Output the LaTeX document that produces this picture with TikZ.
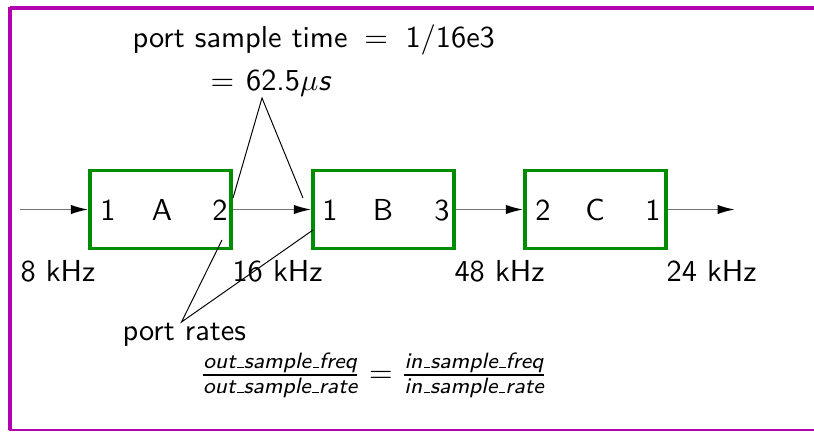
\documentclass[tikz,border=0pt]{standalone}
\usepackage{amsmath}
\usetikzlibrary{arrows.meta}
\definecolor{framecol}{RGB}{176,0,176}
\definecolor{boxgreen}{RGB}{0,140,0}
\newcommand\myus{\kern.06em\vbox{\hrule width.3em height 0.4pt}}
\begin{document}
\begin{tikzpicture}[x=0.3607pt,y=-0.3607pt,
  font=\fontsize{10.95}{13.6}\selectfont\sffamily,
  blk/.style={draw=boxgreen, line width=1.2pt, minimum width=50.86pt, minimum height=28.13pt, inner sep=0pt},
  conn/.style={draw=black!55, line width=0.65pt, -{Latex[length=6.3pt,width=3.4pt,color=black]}},
  callout/.style={draw=black, line width=0.35pt},
  lbl/.style={inner sep=0pt, anchor=base},
  lblw/.style={inner sep=0pt, anchor=base west},
  framethick/.style={draw=framecol, line width=1.4pt},
  framethin/.style={draw=framecol, line width=0.55pt}]
\useasboundingbox (0,0) rectangle (814,431);
% frame
\draw[framethick] (10,8) -- (814,8);
\draw[framethick] (10,7) -- (10,430);
\draw[framethin] (9,429.8) -- (814,429.8);
% blocks
\node[blk] (A) at (160.5,209.5) {};
\node[blk] (B) at (383.5,209.5) {};
\node[blk] (C) at (595.5,209.5) {};
% port and block labels
\node[lbl] (a1) at (108,220) {1};
\node[lbl] (an) at (162,220) {A};
\node[lbl] (a2) at (220,220) {2};
\node[lbl] (b1) at (330,220) {1};
\node[lbl] (bn) at (383,220) {B};
\node[lbl] (b3) at (442,220) {3};
\node[lbl] (c2) at (543,220) {2};
\node[lbl] (cn) at (595,220) {C};
\node[lbl] (c1) at (653,220) {1};
% connectors
\coordinate (in) at (20,209.5);
\coordinate (out) at (735,209.5);
\draw[conn] (in) -- (A.west);
\draw[conn] (A.east) -- (B.west);
\draw[conn] (B.east) -- (C.west);
\draw[conn] (C.east) -- (out);
% frequencies
\node[lblw] (f8) at (20,281) {8 kHz};
\node[lblw] (f16) at (232,281) {16 kHz};
\node[lblw] (f48) at (454,281) {48 kHz};
\node[lblw] (f24) at (666,281) {24 kHz};
% sample time annotation
\node[lblw] (pst) at (132,48) {port sample time\hspace{6.1pt}$=$\hspace{6.3pt}1$/$16e3};
\node[lblw] (pst2) at (210,91) {$=$\hspace{4.3pt}62.5$\mu$\textit{s}};
\coordinate (tapex) at (262,98);
\coordinate (ta) at (233,198);
\coordinate (tb) at (303,198);
\draw[callout] (ta) -- (tapex) -- (tb);
% port rates annotation
\node[lblw] (pr) at (122,340) {port rates};
\coordinate (rapex) at (181.5,322);
\coordinate (ra) at (222,240);
\coordinate (rb) at (313,230);
\draw[callout] (ra) -- (rapex) -- (rb);
\node[inner sep=0pt] (fr) at (373.5,375) {$\genfrac{}{}{0.65pt}{1}{\textit{out\myus sample\myus freq}}{\textit{out\myus sample\myus rate}} = \genfrac{}{}{0.65pt}{1}{\textit{in\myus sample\myus freq}}{\textit{in\myus sample\myus rate}}$};
\end{tikzpicture}
\end{document}
